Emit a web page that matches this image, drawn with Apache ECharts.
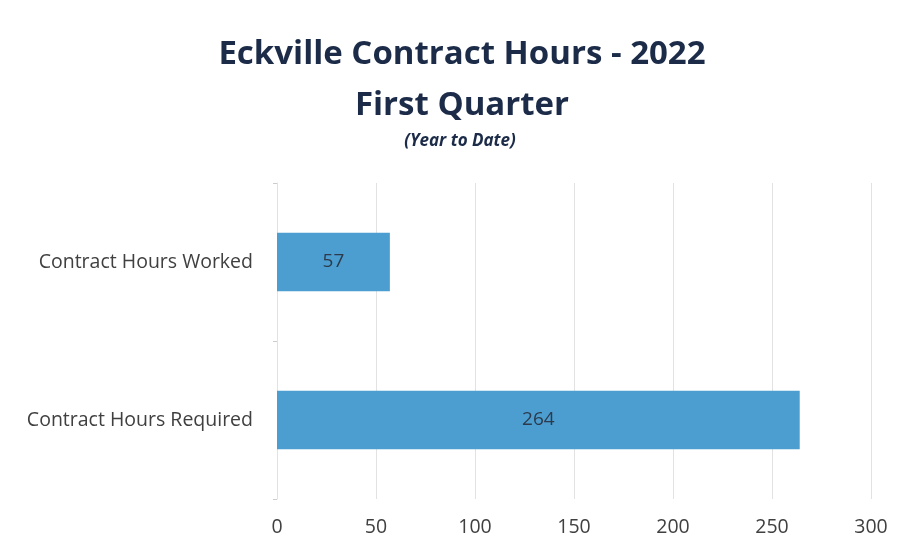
<!DOCTYPE html>
<html><head><meta charset="utf-8">
<script src="https://cdn.jsdelivr.net/npm/echarts@6/dist/echarts.min.js"></script>
<style>html,body{margin:0;padding:0;background:#fff}#c{width:907px;height:558px}</style>
</head><body><div id="c"></div>
<script>
const categories = ['Contract Hours Worked', 'Contract Hours Required'];
const hours = [57, 264];
const xTicks = [0, 50, 100, 150, 200, 250, 300];

const F = 'Open Sans';
const chart = echarts.init(document.getElementById('c'));
chart.setOption({
  backgroundColor: '#ffffff',
  animation: false,
  graphic: [
    {type: 'text', x: 462, y: 55, style: {text: 'Eckville Contract Hours - 2022', textAlign: 'center', textVerticalAlign: 'middle',
      font: 'bold 33px "Open Sans"', fill: '#1b2b48'}},
    {type: 'text', x: 462, y: 106, style: {text: 'First Quarter', textAlign: 'center', textVerticalAlign: 'middle',
      font: 'bold 33px "Open Sans"', fill: '#1b2b48'}},
    {type: 'text', x: 460, y: 141, style: {text: '(Year to Date)', textAlign: 'center', textVerticalAlign: 'middle',
      font: 'italic bold 17px "Open Sans"', fill: '#1b2b48'}}
  ],
  grid: {left: 277, right: 36, top: 183, bottom: 59},
  xAxis: {
    type: 'value', min: xTicks[0], max: xTicks[xTicks.length - 1], interval: 50,
    axisLine: {show: false}, axisTick: {show: false},
    splitLine: {show: true, lineStyle: {color: '#e2e2e2', width: 1}},
    axisLabel: {fontFamily: F, fontSize: 19.5, color: '#404040', margin: 18}
  },
  yAxis: {
    type: 'category', data: categories, inverse: true,
    axisLine: {show: true, lineStyle: {color: '#e2e2e2'}},
    axisTick: {show: true, length: 4, lineStyle: {color: '#cccccc'}},
    axisLabel: {fontFamily: F, fontSize: 19.5, color: '#404040', margin: 24}
  },
  series: [{
    type: 'bar', data: hours, barCategoryGap: '63%',
    itemStyle: {color: '#4c9ed1'},
    label: {show: true, position: 'inside', fontFamily: F, fontSize: 19, color: '#2c3a4c'}
  }]
});
</script></body></html>
